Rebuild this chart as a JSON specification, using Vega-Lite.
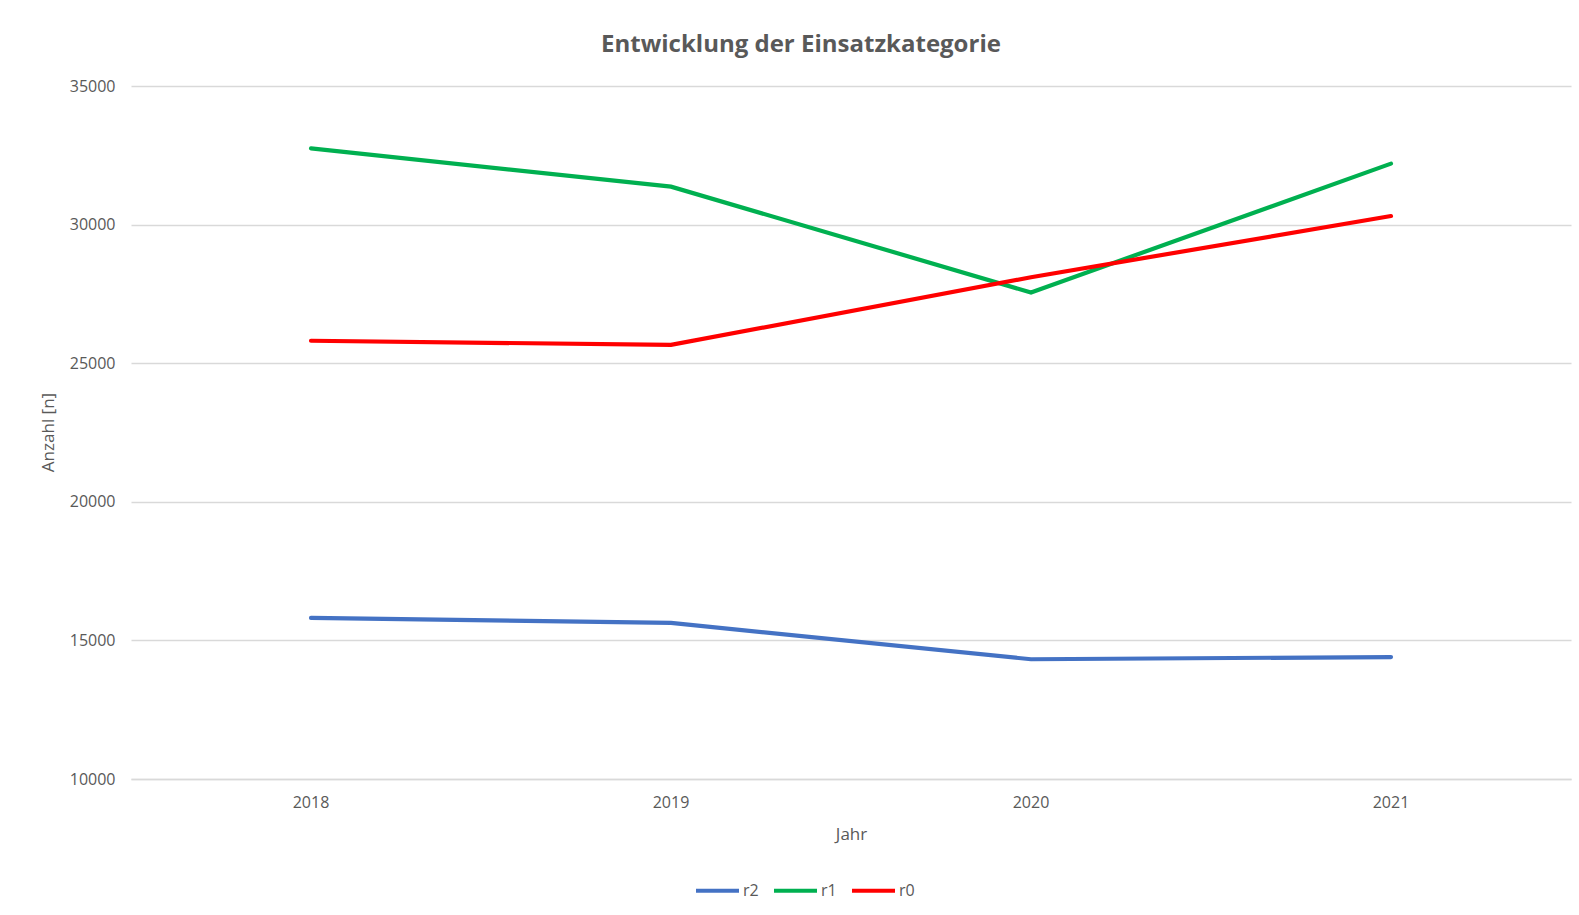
{
  "$schema": "https://vega.github.io/schema/vega-lite/v6.json",
  "autosize": "none",
  "width": 1440,
  "height": 693,
  "padding": {"left": 131, "top": 86, "right": 8, "bottom": 136},
  "background": "white",
  "title": {
    "text": "Entwicklung der Einsatzkategorie",
    "font": "Open Sans",
    "fontSize": 24,
    "fontWeight": "bold",
    "color": "#595959",
    "anchor": "middle",
    "dx": -50,
    "offset": 21
  },
  "data": {
    "values": [
      {"Jahr": "2018", "Kategorie": "r2", "Anzahl": 15810},
      {"Jahr": "2019", "Kategorie": "r2", "Anzahl": 15630},
      {"Jahr": "2020", "Kategorie": "r2", "Anzahl": 14320},
      {"Jahr": "2021", "Kategorie": "r2", "Anzahl": 14400},
      {"Jahr": "2018", "Kategorie": "r1", "Anzahl": 32750},
      {"Jahr": "2019", "Kategorie": "r1", "Anzahl": 31370},
      {"Jahr": "2020", "Kategorie": "r1", "Anzahl": 27550},
      {"Jahr": "2021", "Kategorie": "r1", "Anzahl": 32200},
      {"Jahr": "2018", "Kategorie": "r0", "Anzahl": 25810},
      {"Jahr": "2019", "Kategorie": "r0", "Anzahl": 25660},
      {"Jahr": "2020", "Kategorie": "r0", "Anzahl": 28100},
      {"Jahr": "2021", "Kategorie": "r0", "Anzahl": 30310}
    ]
  },
  "mark": {"type": "line", "strokeWidth": 4.2, "strokeCap": "round", "strokeJoin": "miter"},
  "encoding": {
    "x": {
      "field": "Jahr",
      "type": "ordinal",
      "scale": {"type": "band", "paddingInner": 0, "paddingOuter": 0},
      "axis": {
        "title": "Jahr",
        "labelAngle": 0,
        "ticks": false,
        "tickSize": 0,
        "labelPadding": 15,
        "domain": true,
        "domainColor": "#d9d9d9",
        "domainWidth": 1.5,
        "grid": false,
        "titleY": 55,
        "titleBaseline": "middle"
      }
    },
    "y": {
      "field": "Anzahl",
      "type": "quantitative",
      "scale": {"domain": [10000, 35000], "nice": false, "zero": false},
      "axis": {
        "title": "Anzahl [n]",
        "values": [10000, 15000, 20000, 25000, 30000, 35000],
        "format": "d",
        "ticks": false,
        "tickSize": 0,
        "domain": false,
        "labelPadding": 16,
        "grid": true,
        "gridColor": "#d9d9d9",
        "gridWidth": 1.5,
        "titleX": -83,
        "titleY": 346,
        "titleAngle": -90,
        "titleAlign": "center",
        "titleBaseline": "middle"
      }
    },
    "color": {
      "field": "Kategorie",
      "type": "nominal",
      "scale": {"domain": ["r2", "r1", "r0"], "range": ["#4472C4", "#00B050", "#FF0000"]},
      "legend": {
        "title": null,
        "orient": "none",
        "direction": "horizontal",
        "legendX": 563,
        "legendY": 781,
        "symbolType": "stroke",
        "symbolSize": 1849,
        "symbolStrokeWidth": 4,
        "labelOffset": 2,
        "columnPadding": 7,
        "labelFont": "Open Sans",
        "labelFontSize": 16,
        "labelColor": "#595959"
      }
    }
  },
  "config": {
    "view": {"stroke": null},
    "axis": {
      "labelFont": "Open Sans",
      "labelFontSize": 16,
      "labelColor": "#595959",
      "titleFont": "Open Sans",
      "titleFontSize": 17,
      "titleFontWeight": "normal",
      "titleColor": "#595959"
    }
  }
}
